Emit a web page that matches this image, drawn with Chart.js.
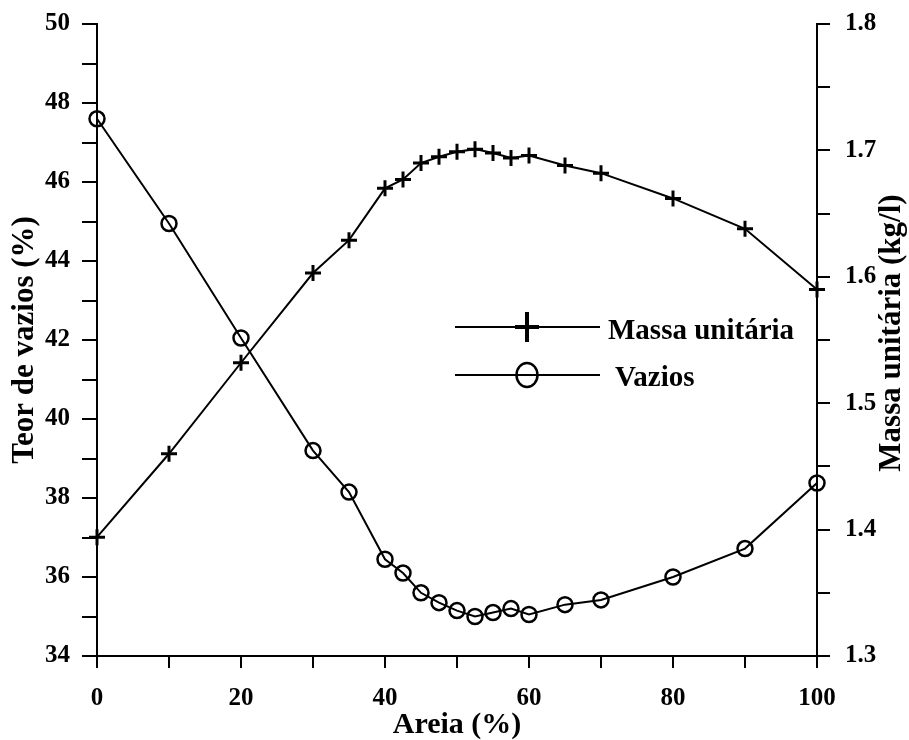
<!DOCTYPE html>
<html>
<head>
<meta charset="utf-8">
<script src="https://cdn.jsdelivr.net/npm/chart.js@4.4.1/dist/chart.umd.min.js"></script>
<style>
  body { margin: 0; background: #fff; }
  #wrap { width: 909px; height: 740px; }
</style>
</head>
<body>
<div id="wrap"><canvas id="chart" width="909" height="740"></canvas></div>
<script>
// sand content (%) on the x axis
const areia = [0, 10, 20, 30, 35, 40, 42.5, 45, 47.5, 50, 52.5, 55, 57.5, 60, 65, 70, 80, 90, 100];
// voids content (%) - left axis
const vazios = [47.6, 44.95, 42.05, 39.2, 38.15, 36.45, 36.1, 35.6, 35.35, 35.15, 35.0, 35.1, 35.2, 35.05, 35.3, 35.42, 36.0, 36.72, 38.38];
// unit mass (kg/l) - right axis
const massa = [1.394, 1.46, 1.532, 1.603, 1.629, 1.670, 1.677, 1.690, 1.695, 1.699, 1.701, 1.698, 1.694, 1.696, 1.688, 1.682, 1.662, 1.638, 1.590];

const seriesNames = ['Massa unitária', 'Vazios'];
const axisTitles = { x: 'Areia (%)', left: 'Teor de vazios (%)', right: 'Massa unitária (kg/l)' };

const FONT = '"Liberation Serif", "Times New Roman", serif';

const toPoints = (xs, ys) => xs.map((x, i) => ({x: x, y: ys[i]}));

// right axis title reads bottom-to-top, and the legend sits inside the plot
const extras = {
    id: 'extras',
    afterDraw(chart) {
        const ctx = chart.ctx;
        ctx.save();
        ctx.fillStyle = '#000';
        ctx.font = 'bold 31px ' + FONT;
        ctx.textAlign = 'center';
        ctx.textBaseline = 'middle';
        ctx.translate(892, 333);
        ctx.rotate(-Math.PI / 2);
        ctx.fillText(axisTitles.right, 0, 0);
        ctx.restore();

        ctx.save();
        ctx.strokeStyle = '#000';
        ctx.fillStyle = '#000';
        ctx.lineWidth = 2;
        // entry 1: line + cross
        ctx.beginPath();
        ctx.moveTo(455, 327); ctx.lineTo(600, 327);
        ctx.stroke();
        ctx.lineWidth = 4;
        ctx.beginPath();
        ctx.moveTo(527, 312); ctx.lineTo(527, 342);
        ctx.moveTo(515, 327); ctx.lineTo(539, 327);
        ctx.stroke();
        // entry 2: line + ellipse
        ctx.lineWidth = 2;
        ctx.beginPath();
        ctx.moveTo(455, 375); ctx.lineTo(600, 375);
        ctx.stroke();
        ctx.lineWidth = 2.5;
        ctx.beginPath();
        ctx.ellipse(527, 375, 10.5, 12, 0, 0, Math.PI * 2);
        ctx.stroke();

        ctx.font = 'bold 29px ' + FONT;
        ctx.textAlign = 'left';
        ctx.textBaseline = 'alphabetic';
        ctx.fillText(seriesNames[0], 608, 339);
        ctx.fillText(seriesNames[1], 615, 386);
        ctx.restore();
    }
};

const tickFont = {family: FONT, size: 25, weight: 'bold'};

// fixed side widths so the plot box lands where the original one is
const fixWidth = w => s => { s.width = w; s.paddingTop = 0; s.paddingBottom = 0; };

new Chart(document.getElementById('chart'), {
    type: 'line',
    data: {
        datasets: [
            {
                label: seriesNames[0],
                data: toPoints(areia, massa),
                yAxisID: 'y1',
                borderColor: '#000',
                borderWidth: 2,
                pointStyle: 'cross',
                pointRadius: 8,
                pointBorderWidth: 3,
                pointBorderColor: '#000',
                fill: false,
                clip: false
            },
            {
                label: seriesNames[1],
                data: toPoints(areia, vazios),
                yAxisID: 'y',
                borderColor: '#000',
                borderWidth: 2,
                pointStyle: 'circle',
                pointRadius: 7.5,
                pointBorderWidth: 2.5,
                pointBorderColor: '#000',
                pointBackgroundColor: 'rgba(0,0,0,0)',
                fill: false,
                clip: false
            }
        ]
    },
    options: {
        responsive: false,
        animation: false,
        layout: {padding: {top: 24, left: 0, right: 0, bottom: 0}},
        plugins: {legend: {display: false}, tooltip: {enabled: false}},
        scales: {
            x: {
                type: 'linear',
                min: 0, max: 100,
                afterFit: s => { s.height = 84; },
                border: {color: '#000', width: 2},
                grid: {drawOnChartArea: false, tickLength: 12, color: '#000', lineWidth: 2},
                ticks: {
                    stepSize: 10, autoSkip: false, maxRotation: 0, padding: 16,
                    color: '#000', font: tickFont,
                    callback: v => (v % 20 === 0 ? String(v) : '')
                },
                title: {display: true, text: axisTitles.x, color: '#000', padding: 0,
                        font: {family: FONT, size: 30, weight: 'bold', lineHeight: 1.0}}
            },
            y: {
                position: 'left',
                min: 34, max: 50,
                afterFit: fixWidth(97),
                border: {color: '#000', width: 2},
                grid: {drawOnChartArea: false, tickLength: 15, color: '#000', lineWidth: 2},
                ticks: {
                    stepSize: 1, autoSkip: false, padding: 12,
                    color: '#000', font: tickFont,
                    callback: v => (v % 2 === 0 ? String(v) : '')
                },
                title: {display: true, text: axisTitles.left, color: '#000', padding: {top: 6, bottom: 0},
                        font: {family: FONT, size: 31, weight: 'bold', lineHeight: 1.2}}
            },
            y1: {
                position: 'right',
                min: 1.3, max: 1.8,
                afterFit: fixWidth(92),
                border: {color: '#000', width: 2},
                grid: {drawOnChartArea: false, tickLength: 13, color: '#000', lineWidth: 2},
                ticks: {
                    stepSize: 0.05, autoSkip: false, padding: 15,
                    color: '#000', font: tickFont,
                    callback: v => (Math.abs(v * 10 - Math.round(v * 10)) < 1e-6 ? v.toFixed(1) : '')
                }
            }
        }
    },
    plugins: [extras]
});
</script>
</body>
</html>
